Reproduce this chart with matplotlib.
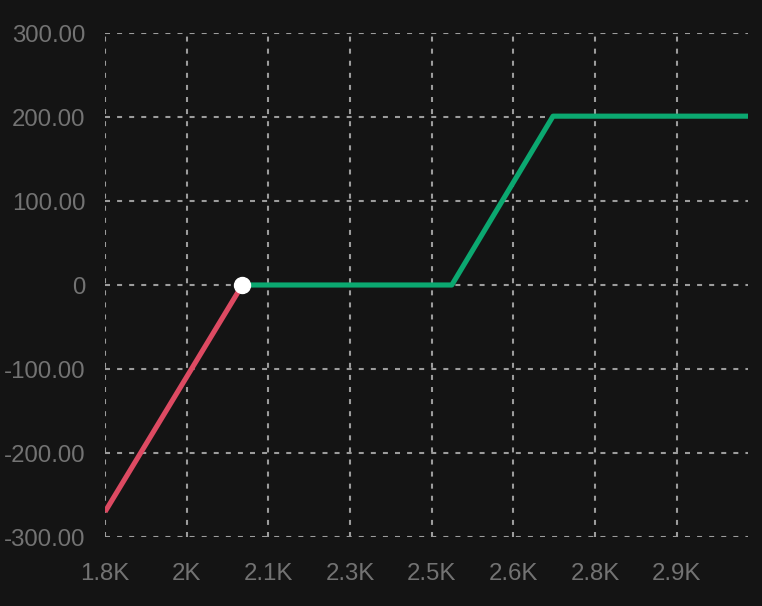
import numpy as np
import matplotlib
matplotlib.use("Agg")
import matplotlib.pyplot as plt

plt.rcParams['font.family'] = ['Liberation Sans', 'DejaVu Sans']
plt.rcParams['axes.unicode_minus'] = False

# payoff curve (price -> P/L)
loss_x = [1800, 2074]
loss_y = [-270, 0]
profit_x = [2074, 2492, 2694, 3083]
profit_y = [0, 0, 201, 201]
breakeven = (2074, 0)

x_ticks = [1800, 1963, 2126, 2289, 2452, 2615, 2778, 2941]
y_ticks = [-300, -200, -100, 0, 100, 200, 300]

bg = '#141414'
fig = plt.figure(figsize=(7.62, 6.06), dpi=100, facecolor=bg)
ax = fig.add_axes([105 / 762, 1 - 537 / 606, 643 / 762, 504 / 606], facecolor=bg)

ax.plot(loss_x, loss_y, color='#dd4a62', lw=3.7, solid_capstyle='butt', zorder=3)
ax.plot(profit_x, profit_y, color='#0ba870', lw=3.7, solid_capstyle='butt', zorder=3)
ax.plot(*breakeven, 'o', color='white', ms=11.5, zorder=4)

ax.set_xlim(1800, 3083)
ax.set_ylim(-300, 300)

def fmt_k(v):
    s = '%.1f' % (v / 1000)
    if s.endswith('.0'):
        s = s[:-2]
    return s + 'K'

ax.set_xticks(x_ticks)
ax.set_xticklabels([fmt_k(v) for v in x_ticks])
ax.set_yticks(y_ticks)
ax.set_yticklabels(['0' if v == 0 else '%.2f' % v for v in y_ticks])

ax.tick_params(length=0, labelsize=17.3, colors='#737373')
ax.tick_params(axis='y', pad=14)
ax.tick_params(axis='x', pad=18.5)
for s in ax.spines.values():
    s.set_visible(False)

ax.grid(True, color='#9c9c9c', lw=1.5, linestyle=(0, (2.4, 3.4)), zorder=1)
ax.set_axisbelow(True)

fig.savefig('out.png', dpi=100, facecolor=bg)
